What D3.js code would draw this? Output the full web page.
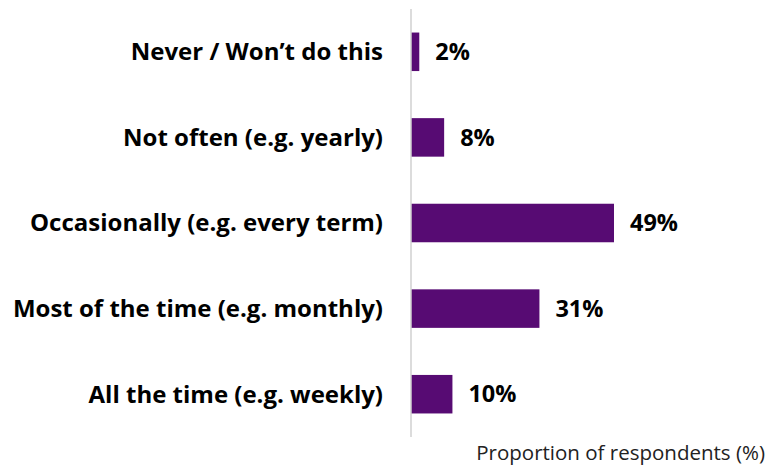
<!DOCTYPE html>
<html>
<head>
<meta charset="utf-8">
<script src="https://cdn.jsdelivr.net/npm/d3@7"></script>
<style>
  html, body { margin: 0; padding: 0; background: #fff; }
  svg { display: block; }
  .cat { font-family: "Open Sans", Lato, sans-serif; font-weight: 700; font-size: 24px; fill: #000; }
  .val { font-family: "Open Sans", Lato, sans-serif; font-weight: 700; font-size: 23.5px; fill: #000; }
  .title { font-family: "Open Sans", Lato, sans-serif; font-size: 20.5px; fill: #222; }
</style>
</head>
<body>
<svg id="chart" width="768" height="469"></svg>
<script>
// Frequency categories, top to bottom
const categories = [
  "Never / Won\u2019t do this",
  "Not often (e.g. yearly)",
  "Occasionally (e.g. every term)",
  "Most of the time (e.g. monthly)",
  "All the time (e.g. weekly)"
];
// Share of respondents in each category (%)
const values = [2, 8, 49, 31, 10];
const axisTitle = "Proportion of respondents (%)";

const svg = d3.select("#chart");
const barColor = "#570B73";

const y = d3.scaleBand()
  .domain(categories)
  .range([9, 437])
  .paddingInner(0.55)
  .paddingOuter(0.275);

const x = d3.scaleLinear()
  .domain([0, 49])
  .range([411, 614]);

const rows = categories.map((c, i) => ({ cat: c, val: values[i] }));

// Bars
svg.append("g").selectAll("rect")
  .data(rows)
  .join("rect")
  .attr("x", x(0))
  .attr("y", d => y(d.cat))
  .attr("width", d => x(d.val) - x(0))
  .attr("height", y.bandwidth())
  .attr("fill", barColor);

// Vertical category axis line
svg.append("line")
  .attr("x1", x(0)).attr("x2", x(0))
  .attr("y1", y.range()[0]).attr("y2", y.range()[1])
  .attr("stroke", "#d0d0d0")
  .attr("stroke-width", 1.5);

// Category labels
svg.append("g").selectAll("text")
  .data(rows)
  .join("text")
  .attr("class", "cat")
  .attr("x", x(0) - 28)
  .attr("y", d => y(d.cat) + y.bandwidth() / 2)
  .attr("dy", "0.35em")
  .attr("text-anchor", "end")
  .text(d => d.cat);

// Value labels
svg.append("g").selectAll("text")
  .data(rows)
  .join("text")
  .attr("class", "val")
  .attr("x", d => x(d.val) + 16)
  .attr("y", d => y(d.cat) + y.bandwidth() / 2)
  .attr("dy", "0.35em")
  .text(d => d.val + "%");

// Axis title
svg.append("text")
  .attr("class", "title")
  .attr("x", 765)
  .attr("y", 460)
  .attr("text-anchor", "end")
  .text(axisTitle);
</script>
</body>
</html>
